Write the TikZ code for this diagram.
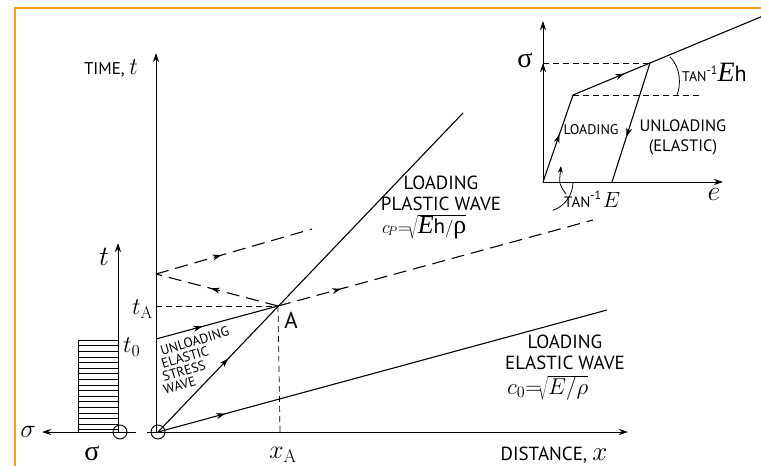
\RequirePackage{fix-cm}
\documentclass[tikz,border=0pt]{standalone}
\usepackage{fontspec}
\usetikzlibrary{arrows.meta,decorations.markings}
\newfontfamily\lab{PT Sans}
\newfontfamily\ser{Liberation Serif}
\newcommand\fsz[2]{\fontsize{#1}{#2}\selectfont}
\definecolor{frameor}{RGB}{247,160,26}
\tikzset{
  ln/.style={line width=1.1pt},
  ax/.style={line width=0.9pt,-{Stealth[length=9pt,width=6pt]}},
  dsh/.style={line width=1.1pt,dash pattern=on 13pt off 7pt},
  fdsh/.style={line width=0.7pt,dash pattern=on 6pt off 4pt},
  midarr/.style={postaction={decorate,decoration={markings,
     mark=at position #1 with {\arrow{Stealth[length=9pt,width=6pt]}}}}},
  txt/.style={inner sep=0pt,font=\lab\fsz{19}{21}},
}
\begin{document}
\begin{tikzpicture}[x=1pt,y=-1pt]
\useasboundingbox (0,0) rectangle (761,466);
% frame
\draw[frameor,line width=2pt] (15,466) -- (15,8) -- (761,8);

% ---------- main diagram coordinates
\coordinate (O) at (158,432);
\coordinate (A) at (278,306);
\coordinate (P1) at (463,113);
\coordinate (E1) at (607,310);
\coordinate (U0) at (156,339);
\coordinate (R) at (156,274);
\coordinate (D1) at (593,220);
\coordinate (D2) at (312,229);
\coordinate (tA) at (156,306);
\coordinate (xA) at (280,432);
\coordinate (tTop) at (156,53);
\coordinate (tBot) at (156,432);
\coordinate (xL) at (147,432);
\coordinate (xR) at (628,432);

% axes
\draw[ax] (tBot) -- (tTop);
\draw[ax] (xL) -- (xR);
\draw[line width=0.9pt] (O) circle (7);

% wave lines
\draw[ln,midarr=0.23] (O) -- (P1);
\draw[ln,midarr=0.15] (O) -- (E1);
\draw[ln,midarr=0.38] (U0) -- (A);
\draw[dsh,midarr=0.2] (A) -- (D1);
\draw[dsh,midarr=0.55] (A) -- (R);
\draw[dsh,midarr=0.42] (R) -- (D2);
\draw[fdsh] (tA) -- (A);
\draw[fdsh] (A) -- (xA);

% labels main
\node[txt,anchor=base east,font=\lab\fsz{17}{20}] (timelab) at (138,74) {TIME, {\fsz{24}{26}$t$}};
\node[txt,anchor=base] (distlab) at (554,460) {DISTANCE, {\fsz{27}{29}$x$}};
\node[txt,align=center] (plaslab) at (441,193) {LOADING\\PLASTIC WAVE};
\node[txt,align=center] (elaslab) at (565,352) {LOADING\\ELASTIC WAVE};
\node[inner sep=0pt,anchor=base west] (cp) at (382,233)
  {\fsz{18}{22}$c_{\!P}{=}\!\sqrt{\mbox{\ser\itshape\fsz{26}{28}E}\mbox{\lab\fsz{21}{22}h}/\mbox{\ser\fsz{26}{28}ρ}}$};
\node[inner sep=0pt,anchor=base west] (c0) at (507,394)
  {\fsz{23}{25}$c_0{=}\!\sqrt{E/\rho}$};
\node[inner sep=0pt,font=\lab\fsz{23}{24}] (Alab) at (291,320) {A};
\node[inner sep=0pt,anchor=east,font=\fsz{24}{26}] (tAlab) at (153,309) {$t_{\mathrm A}$};
\node[inner sep=0pt,font=\fsz{26}{28}] (xAlab) at (283,455) {$x_{\mathrm A}$};
\foreach \txtline/\px/\py in {UNLOADING/162/356,ELASTIC/163/369,STRESS/164/382,WAVE/165/395}
  \node[inner sep=0pt,anchor=base west,rotate=17,font=\lab\fsz{13.5}{15}] at (\px,\py) {\txtline};

% ---------- left small diagram
\coordinate (sO) at (120,432);
\coordinate (sT) at (118,243);
\coordinate (sR) at (136,432);
\coordinate (sL) at (42,432);
\draw[ax] (118,432) -- (sT);
\draw[ax] (sR) -- (sL);
\draw[line width=0.9pt] (sO) circle (7);
\draw[line width=0.9pt] (78,432) -- (78,340) -- (118,340);
\foreach \yy in {345.6,351.2,...,430} \draw[line width=0.5pt] (78,\yy) -- (118,\yy);
\node[inner sep=0pt,font=\fsz{28}{30}] (tlab) at (104,257) {$t$};
\node[inner sep=0pt,anchor=west,font=\fsz{24}{26}] (t0lab) at (123,347) {$t_0$};
\node[inner sep=0pt,font=\fsz{26}{28}] (sig1) at (28,432) {$\sigma$};
\node[inner sep=0pt,font=\ser\fsz{28}{30}] (sig2) at (92,453) {σ};

% ---------- inset sigma-e
\coordinate (I) at (543,182);
\coordinate (Y) at (573,95);
\coordinate (B) at (650,63);
\coordinate (Pend) at (763,16);
\coordinate (U1) at (612,182);
\coordinate (sigTop) at (543,21);
\coordinate (sigMid) at (543,63);
\coordinate (eR) at (723,182);
\draw[ax] (I) -- (sigTop);
\draw[line width=0.9pt,-{Stealth[length=9pt,width=6pt]}] (543,90) -- (sigMid);
\draw[ax] (I) -- (eR);
\draw[ln,midarr=0.55] (I) -- (Y);
\draw[ln,midarr=0.27] (Y) -- (Pend);
\draw[ln,midarr=0.62] (B) -- (U1);
\draw[fdsh] (sigMid) -- (B);
\draw[fdsh] (Y) -- (700,95);
\draw[line width=0.8pt] (573,182) arc[start angle=0,end angle=71,radius=30];
\draw[line width=0.8pt] (670,57) .. controls (681,68) and (681,85) .. (677,95);
\draw[line width=0.8pt,-{Stealth[length=7pt,width=5pt]}] (566,194) .. controls (559,184) .. (561,166);
\node[inner sep=0pt,font=\ser\fsz{28}{30}] (sig3) at (525,60) {σ};
\node[inner sep=0pt,anchor=base west] (tanEh) at (682,81)
  {{\lab\fsz{14}{16}TAN}\raisebox{7pt}{\lab\fsz{12}{13}-1}{\ser\itshape\fsz{28}{30}E}{\lab\fsz{22}{24}h}};
\node[inner sep=0pt,anchor=base west] (tanE) at (564,207)
  {{\lab\fsz{15}{16}TAN}\raisebox{8pt}{\lab\fsz{12}{13}-1}\,{\fsz{22}{24}$E$}};
\node[inner sep=0pt,font=\fsz{28}{30}] (elab) at (714,194) {$e$};
\node[inner sep=0pt,font=\lab\fsz{14}{16}] (ldlab) at (591,130) {LOADING};
\node[inner sep=0pt,align=center,font=\lab\fsz{16.5}{20}] (unlab) at (683,137) {UNLOADING\\(ELASTIC)};
\end{tikzpicture}
\end{document}
